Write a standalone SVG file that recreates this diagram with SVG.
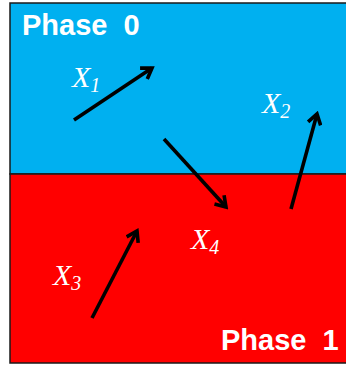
<svg xmlns="http://www.w3.org/2000/svg" width="346" height="366" viewBox="0 0 346 366">
<style>
.phase{font-family:"Liberation Sans",Arial,sans-serif;font-weight:bold;font-size:29px;fill:#fff;white-space:pre}
.lbl{font-family:"Liberation Serif","Times New Roman",serif;font-style:italic;font-size:30px;fill:#fff}
.sub{font-size:20px}
.arr{stroke:#000;stroke-width:3.6;fill:none;marker-end:url(#ah)}
</style>
<defs>
<marker id="ah" markerUnits="userSpaceOnUse" viewBox="0 0 16 16" markerWidth="16" markerHeight="16" refX="13" refY="8" orient="auto">
<path d="M3,1.5 L13,8 L3,14.5" fill="none" stroke="#000" stroke-width="3.6" stroke-linejoin="miter"/>
</marker>
</defs>
<rect width="346" height="366" fill="#fff"/>
<g id="phase0">
<rect x="10" y="3" width="340" height="171" fill="#00B0F0" stroke="#1a1a1a" stroke-width="1.5"/>
<text class="phase" x="22" y="35">Phase  0</text>
</g>
<g id="phase1">
<rect x="10" y="174" width="340" height="189" fill="#FF0000" stroke="#1a1a1a" stroke-width="1.5"/>
<text class="phase" x="221" y="350">Phase  1</text>
</g>
<g id="connectors">
<line class="arr" x1="74" y1="120" x2="152" y2="68"/>
<line class="arr" x1="164" y1="139" x2="226" y2="207"/>
<line class="arr" x1="291" y1="209" x2="317" y2="114"/>
<line class="arr" x1="92" y1="318" x2="137" y2="231"/>
</g>
<g id="X1"><text class="lbl" x="72" y="87">X<tspan class="sub" dy="5">1</tspan></text></g>
<g id="X2"><text class="lbl" x="262" y="113">X<tspan class="sub" dy="5">2</tspan></text></g>
<g id="X3"><text class="lbl" x="53" y="285">X<tspan class="sub" dy="5">3</tspan></text></g>
<g id="X4"><text class="lbl" x="191" y="249">X<tspan class="sub" dy="5">4</tspan></text></g>
</svg>
